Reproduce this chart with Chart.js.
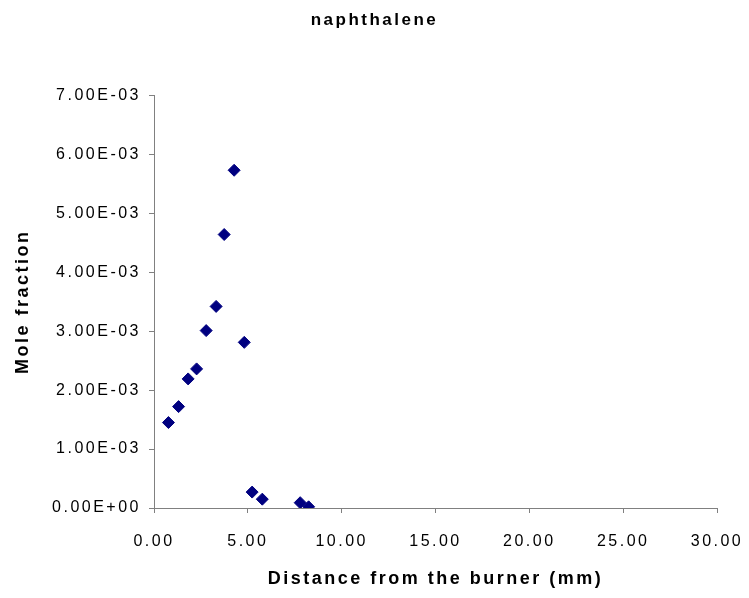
<!DOCTYPE html>
<html>
<head>
<meta charset="utf-8">
<script src="https://cdn.jsdelivr.net/npm/chart.js@4/dist/chart.umd.min.js"></script>
<style>
  html, body { margin: 0; padding: 0; background: #ffffff; }
  #wrap { width: 749px; height: 598px; }
</style>
</head>
<body>
<div id="wrap"><canvas id="chart" width="749" height="598"></canvas></div>
<script>
// Measured naphthalene profile above the burner surface
const distanceMm = [0.77, 1.31, 1.82, 2.27, 2.78, 3.31, 3.74, 4.27, 4.81, 5.23, 5.77, 7.79, 8.24];
const moleFraction = [1.45e-3, 1.72e-3, 2.19e-3, 2.36e-3, 3.01e-3, 3.42e-3, 4.64e-3, 5.73e-3, 2.81e-3, 0.27e-3, 0.15e-3, 0.09e-3, 0.02e-3];

const chartTitle = 'naphthalene';
const xTitle = 'Distance from the burner (mm)';
const yTitle = 'Mole fraction';

const xRange = { min: 0, max: 30, step: 5 };
const yRange = { min: 0, max: 7e-3, step: 1e-3 };

// Scientific notation with a two-digit exponent, e.g. 7.00E-03
function sciLabel(v) {
  const [m, e] = Number(v).toExponential(2).split('e');
  const n = parseInt(e, 10);
  const sign = n < 0 ? '-' : '+';
  return m + 'E' + sign + String(Math.abs(n)).padStart(2, '0');
}

const FONT = '"Liberation Sans", Arial, sans-serif';
const SPACING = '2.5px';

// Wide letter spacing for all chart text
const spacedText = {
  id: 'spacedText',
  beforeUpdate(chart) { chart.ctx.letterSpacing = SPACING; },
  beforeDraw(chart) { chart.ctx.letterSpacing = SPACING; }
};

const points = distanceMm.map((x, i) => ({ x, y: moleFraction[i] }));

new Chart(document.getElementById('chart'), {
  type: 'scatter',
  data: {
    datasets: [{
      data: points,
      pointStyle: 'rectRot',
      pointRadius: 6,
      pointHoverRadius: 6,
      borderWidth: 1,
      backgroundColor: '#000080',
      borderColor: '#000080'
    }]
  },
  plugins: [spacedText],
  options: {
    responsive: false,
    animation: false,
    layout: { padding: 0 },
    plugins: {
      legend: { display: false },
      tooltip: { enabled: false },
      title: {
        display: true,
        text: chartTitle,
        color: '#000000',
        font: { family: FONT, size: 17, weight: 'bold' },
        padding: { top: 10, bottom: 65 }
      }
    },
    scales: {
      x: {
        type: 'linear',
        min: xRange.min,
        max: xRange.max,
        border: { color: '#808080', width: 1 },
        grid: { drawOnChartArea: false, color: '#808080', tickLength: 5 },
        ticks: {
          stepSize: xRange.step,
          color: '#000000',
          padding: 19,
          maxRotation: 0,
          font: { family: FONT, size: 16 },
          callback: v => Number(v).toFixed(2)
        },
        title: {
          display: true,
          text: xTitle,
          color: '#000000',
          font: { family: FONT, size: 18, weight: 'bold' },
          padding: { top: 0, bottom: 8 }
        },
        afterFit(scale) {
          scale.height = 90;
          scale.paddingLeft = 0;
          scale.paddingRight = 32;
        }
      },
      y: {
        type: 'linear',
        min: yRange.min,
        max: yRange.max,
        border: { color: '#808080', width: 1 },
        grid: { drawOnChartArea: false, color: '#808080', tickLength: 5 },
        ticks: {
          stepSize: yRange.step,
          color: '#000000',
          padding: 8,
          font: { family: FONT, size: 16 },
          callback: v => sciLabel(v)
        },
        title: {
          display: true,
          text: yTitle,
          color: '#000000',
          font: { family: FONT, size: 18, weight: 'bold' },
          padding: { top: 12, bottom: 0 }
        },
        afterFit(scale) {
          scale.width = 154;
          scale.paddingTop = 0;
          scale.paddingBottom = 0;
        }
      }
    }
  }
});
</script>
</body>
</html>
